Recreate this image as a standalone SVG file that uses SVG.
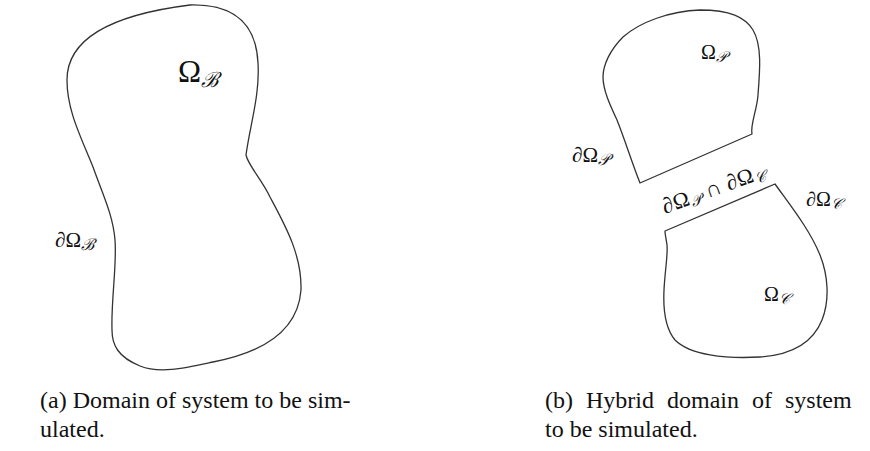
<svg xmlns="http://www.w3.org/2000/svg" width="870" height="451" viewBox="0 0 870 451">
<style>
.sh{fill:none;stroke:#333;stroke-width:1.3;stroke-linejoin:round}
.m{font-family:"Liberation Serif","DejaVu Serif",serif;fill:#111}
.s{font-family:"DejaVu Serif","Liberation Serif",serif;font-style:italic;fill:#111}
.cap{font-family:"Liberation Serif","Times New Roman",serif;font-size:24px;fill:#111}
</style>
<rect width="870" height="451" fill="#fff"/>
<g id="domainB">
<path class="sh" d="M190,5 C230,4 256,20 258,63 C260,95 250,125 246,155 C248,165 262,180 270,197 C285,225 302,255 301,290 C298,330 265,352 213,362 C185,368 160,374 140,366 C118,357 112,345 112,330 C111,300 117,265 115,240 C113,215 103,195 93,167 C80,135 67,110 67,80 C67,40 110,15 190,5 Z"/>
<text class="m" x="178" y="82" font-size="31">Ω<tspan class="s" font-size="21" dy="5">ℬ</tspan></text>
<text class="m" x="55" y="247" font-size="21">∂Ω<tspan class="s" font-size="16" dy="3">ℬ</tspan></text>
</g>
<g id="domainP">
<path class="sh" d="M640,183 L752,134 C750,125 757,110 758,95 C760,70 762,45 753,30 C745,17 730,10 700,10 C670,11 640,22 623,37 C610,50 603,65 603,77 C603,90 610,105 617,120 C625,140 632,163 640,183 Z"/>
<text class="m" x="701" y="59" font-size="20">Ω<tspan class="s" font-size="15" dy="3">𝒫</tspan></text>
<text class="m" x="572" y="162" font-size="21">∂Ω<tspan class="s" font-size="16" dy="3">𝒫</tspan></text>
</g>
<g id="domainC">
<path class="sh" d="M665,231 L775,184 C790,205 810,230 820,255 C828,275 830,300 822,320 C812,345 790,355 760,357 C725,359 690,355 675,340 C665,328 663,310 664,290 C665,270 668,255 667,245 C666,238 665,234 665,231 Z"/>
<text class="m" x="764" y="301" font-size="20">Ω<tspan class="s" font-size="15" dy="3">𝒞</tspan></text>
<text class="m" x="806" y="206" font-size="20">∂Ω<tspan class="s" font-size="15" dy="3">𝒞</tspan></text>
</g>
<g id="interface">
<text class="m" font-size="22" letter-spacing="0.5" transform="translate(665,214) rotate(-20)">∂Ω<tspan class="s" font-size="15" dy="3">𝒫</tspan><tspan dy="-3"> ∩ ∂Ω</tspan><tspan class="s" font-size="15" dy="3">𝒞</tspan></text>
</g>
<g id="captions">
<text class="cap" x="40" y="408">(a) Domain of system to be sim-</text>
<text class="cap" x="40" y="437">ulated.</text>
<text class="cap" x="545" y="408" word-spacing="7">(b) Hybrid domain of system</text>
<text class="cap" x="545" y="437">to be simulated.</text>
</g>
</svg>
